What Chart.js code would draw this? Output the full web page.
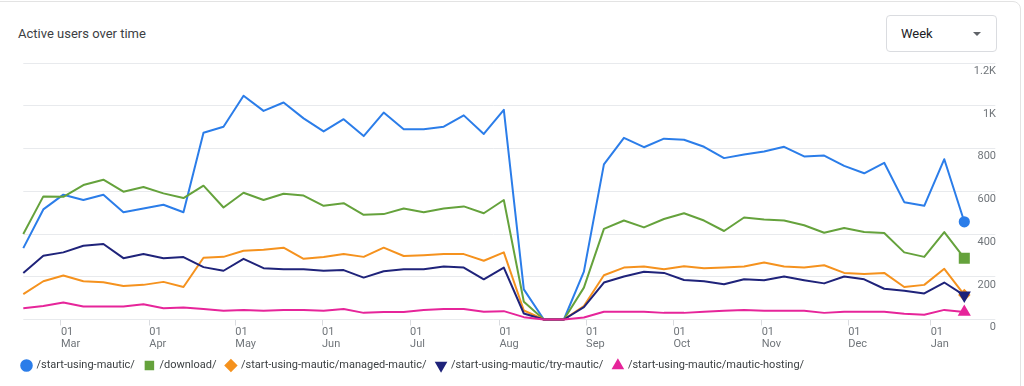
<!DOCTYPE html>
<html>
<head>
<meta charset="utf-8">
<script src="https://cdn.jsdelivr.net/npm/chart.js@4/dist/chart.umd.min.js"></script>
<style>
  html, body { margin: 0; padding: 0; background: #fff; }
  body { width: 1024px; height: 386px; position: relative; overflow: hidden; font-family: Roboto, "Noto Sans", sans-serif; }
  .card { position: absolute; left: -10px; top: 1px; width: 1031px; height: 500px; border: 1px solid #e3e3e3; border-radius: 8px; box-sizing: border-box; }
  .title { position: absolute; left: 18px; top: 25px; font-size: 13px; line-height: 18px; color: #3c4043; }
  .dropdown { position: absolute; left: 886px; top: 15px; width: 111px; height: 37px; border: 1px solid #dadce0; border-radius: 4px; box-sizing: border-box; }
  .dropdown span { position: absolute; left: 14px; top: 9px; font-size: 13px; line-height: 18px; color: #202124; }
  .dropdown i { position: absolute; left: 86px; top: 16px; width: 0; height: 0; border-left: 4px solid transparent; border-right: 4px solid transparent; border-top: 4px solid #5f6368; }
  .wrap { position: absolute; left: 0; top: 0; width: 1024px; height: 386px; }
</style>
</head>
<body>
<div class="card"></div>
<div class="title">Active users over time</div>
<div class="dropdown"><span>Week</span><i></i></div>
<div class="wrap"><canvas id="c"></canvas></div>
<script>
// Week categories (week start)
const weeks = ['Feb 16','Feb 23','Mar 2','Mar 9','Mar 16','Mar 23','Mar 30','Apr 6','Apr 13','Apr 20','Apr 27',
  'May 4','May 11','May 18','May 25','Jun 1','Jun 8','Jun 15','Jun 22','Jun 29','Jul 6','Jul 13','Jul 20','Jul 27',
  'Aug 3','Aug 10','Aug 17','Aug 24','Aug 31','Sep 7','Sep 14','Sep 21','Sep 28','Oct 5','Oct 12','Oct 19','Oct 26',
  'Nov 2','Nov 9','Nov 16','Nov 23','Nov 30','Dec 7','Dec 14','Dec 21','Dec 28','Jan 4','Jan 11'];

// Month tick labels and their positions (in weeks from the first point)
const monthLabels = ['Mar','Apr','May','Jun','Jul','Aug','Sep','Oct','Nov','Dec','Jan'];
const monthTickPos = [1.88, 6.29, 10.59, 14.92, 19.32, 23.78, 28.11, 32.47, 36.88, 41.2, 45.32];

// Y tick values
const yTicks = [0, 200, 400, 600, 800, 1000, 1200];

// Series
const seriesNames = ['/start-using-mautic/', '/download/', '/start-using-mautic/managed-mautic/', '/start-using-mautic/try-mautic/', '/start-using-mautic/mautic-hosting/'];
const startUsing = [334,515,584,559,584,502,519,537,502,874,902,1047,976,1015,941,880,937,858,968,890,890,902,955,868,981,141,0,0,224,726,850,806,846,841,808,755,772,786,808,763,767,719,684,733,549,532,750,457];
const download   = [400,576,574,629,654,598,620,590,568,626,524,593,559,588,580,532,544,490,493,519,502,519,529,497,559,83,0,0,149,424,463,431,470,497,463,414,477,468,463,441,406,428,409,405,314,293,409,287];
const managed    = [119,179,206,179,174,157,162,176,152,289,293,322,326,336,284,292,306,293,336,297,301,306,306,275,314,42,0,0,63,207,243,248,235,249,240,243,248,267,248,243,254,218,213,218,152,162,237,115];
const tryMautic  = [218,298,314,345,353,287,306,287,292,245,228,284,240,235,235,228,231,196,226,235,235,248,243,188,243,28,0,0,58,173,201,223,218,185,179,165,188,184,201,184,169,201,188,144,135,122,173,113];
const hosting    = [53,63,80,61,61,61,71,53,56,49,41,44,41,44,44,41,49,31,35,35,44,49,49,36,39,11,0,0,9,36,36,36,31,31,36,41,45,41,41,41,31,36,36,36,27,22,45,35];

const seriesValues = [startUsing, download, managed, tryMautic, hosting];
const colors = ['#2b7de9', '#65a23c', '#f5921e', '#1f237a', '#e6259a'];
const pointStyles = ['circle', 'rect', 'rectRot', 'triangle', 'triangle'];
const pointRotations = [0, 0, 0, 180, 0];
const endRadius = [4.6, 6.4, 4.8, 5.6, 5.6];

const datasets = seriesValues.map((vals, s) => ({
  label: seriesNames[s],
  data: vals.map((v, i) => ({ x: i, y: v })),
  borderColor: colors[s],
  backgroundColor: colors[s],
  pointBackgroundColor: colors[s],
  pointBorderColor: colors[s],
  pointStyle: pointStyles[s],
  pointRotation: pointRotations[s],
  pointRadius: vals.map((_, i) => i === vals.length - 1 ? endRadius[s] : 0),
  pointHoverRadius: 0,
  borderWidth: 2,
  borderJoinStyle: 'round',
  tension: 0,
  clip: false,
  order: 5 - s
}));

new Chart(document.getElementById('c'), {
  type: 'line',
  data: { datasets },
  options: {
    responsive: true,
    maintainAspectRatio: false,
    animation: false,
    layout: { padding: { left: 12, right: 28, top: 63, bottom: 5 } },
    plugins: {
      tooltip: { enabled: false },
      legend: {
        position: 'bottom',
        align: 'start',
        labels: {
          usePointStyle: true,
          boxWidth: 9,
          boxHeight: 7.5,
          padding: 10,
          color: '#3c4043',
          font: { family: 'Roboto', size: 11 },
          sort: (a, b) => a.datasetIndex - b.datasetIndex
        }
      }
    },
    scales: {
      x: {
        type: 'linear',
        min: 0,
        max: weeks.length - 1,
        afterBuildTicks: (s) => { s.ticks = monthTickPos.map(v => ({ value: v })); },
        afterFit: (s) => { s.height = 30.5; },
        ticks: {
          autoSkip: false,
          maxRotation: 0,
          minRotation: 0,
          align: 'start',
          padding: 1,
          color: '#70757a',
          font: { family: 'Roboto', size: 11, lineHeight: 1.1 },
          callback: (v, i) => ['01', monthLabels[i]]
        },
        grid: { drawOnChartArea: false, drawTicks: true, tickLength: 6, color: '#dadce0' },
        border: { display: false }
      },
      y: {
        type: 'linear',
        position: 'right',
        min: 0,
        max: 1200,
        afterBuildTicks: (s) => { s.ticks = yTicks.map(v => ({ value: v })); },
        afterFit: (s) => { s.width = 31.7; },
        ticks: {
          crossAlign: 'far',
          labelOffset: 8,
          padding: 0,
          color: '#70757a',
          font: { family: 'Roboto', size: 11 },
          callback: (v) => v >= 1000 ? (v / 1000) + 'K' : String(v)
        },
        grid: { color: '#e8eaed', drawTicks: true, tickLength: 31 },
        border: { display: false }
      },
      yl: {
        type: 'linear',
        position: 'left',
        display: true,
        afterFit: (s) => { s.width = 11.3; },
        ticks: { display: false },
        grid: { display: false },
        border: { display: false }
      }
    }
  }
});
</script>
</body>
</html>
